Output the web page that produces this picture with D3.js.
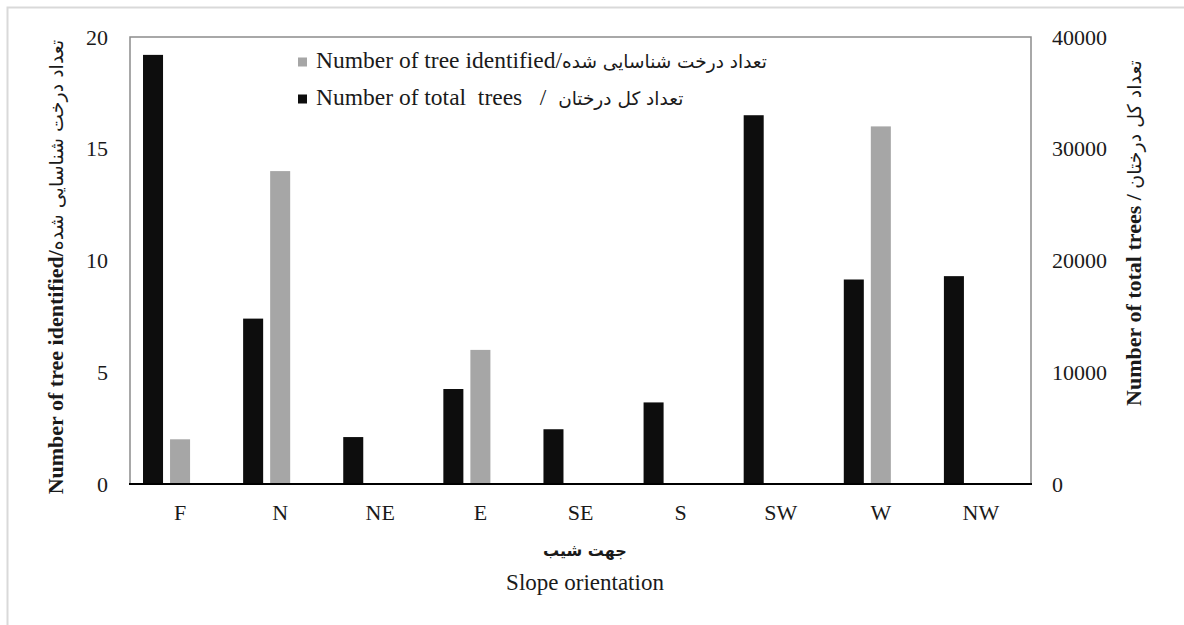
<!DOCTYPE html>
<html>
<head>
  <meta charset="utf-8">
  <title>Slope orientation</title>
  <style>
    body { margin: 0; background: #fff; }
    svg text { font-family: "Liberation Serif", "Times New Roman", Tinos, "DejaVu Serif", serif; fill: #1a1a1a; }
    svg tspan.fa, svg text.fa { font-family: "DejaVu Sans", "Noto Sans", sans-serif; }
  </style>
  <script src="https://cdn.jsdelivr.net/npm/d3@7"></script>
</head>
<body>
  <svg id="chart" width="1184" height="625"></svg>
  <script>
    // values
    var categories = ["F", "N", "NE", "E", "SE", "S", "SW", "W", "NW"];
    var identified = [2, 14, 0, 6, 0, 0, 0, 16, 0];
    var totalTrees = [38400, 14800, 4200, 8500, 4900, 7300, 33000, 18300, 18600];
    var leftTicks = [0, 5, 10, 15, 20];
    var rightTicks = [0, 10000, 20000, 30000, 40000];

    var svg = d3.select("#chart");
    var x0 = 130, x1 = 1031, yTop = 37, yBot = 484;

    // outer light frame
    svg.append("path").attr("d", "M7.5,625V7.5H1184")
      .attr("fill", "none").attr("stroke", "#d9d9d9").attr("stroke-width", 2);

    var x = d3.scaleBand().domain(categories).range([x0, x1]).padding(0);
    var yL = d3.scaleLinear().domain([0, 20]).range([yBot, yTop]);
    var yR = d3.scaleLinear().domain([0, 40000]).range([yBot, yTop]);
    var bw = x.bandwidth();

    // plot frame
    svg.append("path").attr("d", "M" + x0 + "," + yBot + "V" + yTop + "H" + x1 + "V" + yBot)
      .attr("fill", "none").attr("stroke", "#8c8c8c").attr("stroke-width", 1.5);

    var rows = categories.map(function (c, i) { return { c: c, a: identified[i], t: totalTrees[i] }; });

    svg.selectAll("rect.tot").data(rows).enter().append("rect")
      .attr("class", "tot")
      .attr("x", function (d) { return x(d.c) + bw * 0.13; })
      .attr("width", bw * 0.2)
      .attr("y", function (d) { return yR(d.t); })
      .attr("height", function (d) { return yBot - yR(d.t); })
      .attr("fill", "#0d0d0d");

    svg.selectAll("rect.idf").data(rows.filter(function (d) { return d.a > 0; })).enter().append("rect")
      .attr("class", "idf")
      .attr("x", function (d) { return x(d.c) + bw * 0.40; })
      .attr("width", bw * 0.2)
      .attr("y", function (d) { return yL(d.a); })
      .attr("height", function (d) { return yBot - yL(d.a); })
      .attr("fill", "#a6a6a6");

    // bottom axis line
    svg.append("line").attr("x1", x0 - 1).attr("x2", x1 + 1).attr("y1", yBot).attr("y2", yBot)
      .attr("stroke", "#000").attr("stroke-width", 2);

    // axes
    var gl = svg.append("g").attr("transform", "translate(" + (x0 - 22) + ",0)")
      .call(d3.axisLeft(yL).tickValues(leftTicks).tickSize(0).tickPadding(0));
    var gr = svg.append("g").attr("transform", "translate(" + (x1 + 21) + ",0)")
      .call(d3.axisRight(yR).tickValues(rightTicks).tickFormat(d3.format("d")).tickSize(0).tickPadding(0));
    var gx = svg.append("g").attr("transform", "translate(0," + yBot + ")")
      .call(d3.axisBottom(x).tickSize(0).tickPadding(20));
    [gl, gr, gx].forEach(function (g) {
      g.attr("font-family", null).attr("font-size", null);
      g.select(".domain").remove();
      g.selectAll("text").style("font-size", "22px");
    });

    // axis titles
    function mixed(sel, en, fa, enSize, faSize, bold) {
      sel.append("tspan").text(en).style("font-size", enSize + "px").style("font-weight", bold ? "bold" : "normal");
      sel.append("tspan").attr("class", "fa").text(fa).style("font-size", faSize + "px");
    }

    var tl = svg.append("text").attr("transform", "translate(63,267) rotate(-90)")
      .attr("text-anchor", "middle").attr("direction", "ltr");
    mixed(tl, "Number of tree identified/", "تعداد درخت شناسایی شده", 22, 19, true);

    var tr = svg.append("text").attr("transform", "translate(1141,233) rotate(-90)")
      .attr("text-anchor", "middle").attr("direction", "ltr");
    mixed(tr, "Number of total trees / ", "تعداد کل درختان", 22, 19, true);

    svg.append("text").attr("class", "fa").attr("x", 585).attr("y", 556)
      .attr("text-anchor", "middle").style("font-size", "16px").style("font-weight", "bold").text("جهت شیب");
    svg.append("text").attr("x", 585).attr("y", 590)
      .attr("text-anchor", "middle").style("font-size", "23px").text("Slope orientation");

    // legend
    var legend = [
      { en: "Number of tree identified/", fa: "تعداد درخت شناسایی شده", color: "#a6a6a6", y: 62 },
      { en: "Number of total  trees   /  ", fa: "تعداد کل درختان", color: "#0d0d0d", y: 99 }
    ];
    var lg = svg.selectAll("g.leg").data(legend).enter().append("g").attr("class", "leg");
    lg.append("rect").attr("x", 298).attr("y", function (d) { return d.y - 4.5; })
      .attr("width", 9).attr("height", 9).attr("fill", function (d) { return d.color; });
    lg.each(function (d) {
      var t = d3.select(this).append("text").attr("x", 316).attr("y", d.y + 6)
        .attr("direction", "ltr").style("white-space", "pre");
      mixed(t, d.en, d.fa, 23.5, 18.5, false);
    });
  </script>
</body>
</html>
